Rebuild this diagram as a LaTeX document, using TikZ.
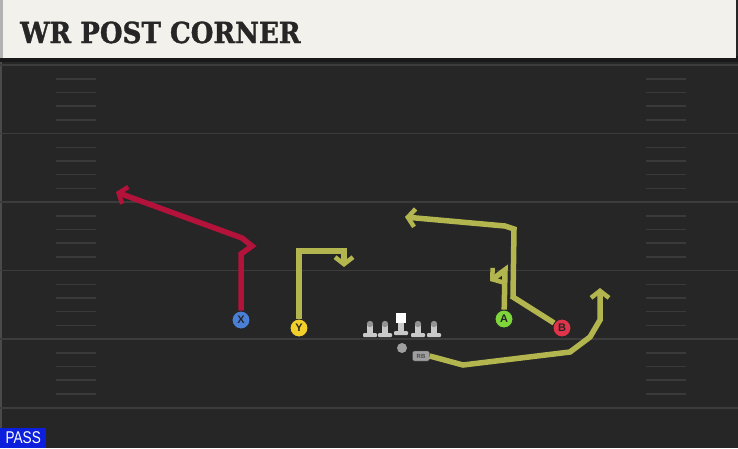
\documentclass[tikz,border=0pt]{standalone}
\usepackage{fontspec}
\usetikzlibrary{arrows.meta}
\newfontfamily\titlefont{DejaVu Serif}[BoldFeatures={FakeBold=1.2}]
\newfontfamily\tagfont{Liberation Sans}
\definecolor{fieldbg}{HTML}{262626}
\definecolor{headbg}{HTML}{F3F1EB}
\definecolor{yardline}{HTML}{3C3C3C}
\definecolor{hashline}{HTML}{3A3A3A}
\definecolor{redroute}{HTML}{B3123A}
\definecolor{oliveroute}{HTML}{B3B64E}
\definecolor{xblue}{HTML}{4A7FD6}
\definecolor{yyellow}{HTML}{F2CF2A}
\definecolor{agreen}{HTML}{7ED63A}
\definecolor{bred}{HTML}{E0344A}
\definecolor{linegray}{HTML}{C9C9C9}
\definecolor{passblue}{HTML}{0B1FDC}
\tikzset{
  player/.style={circle,draw=black!85,line width=0.9pt,minimum size=18pt,inner sep=0pt,
    font=\tagfont\bfseries\fontsize{11}{11}\selectfont,text=black!85},
  route/.style={line width=5.5pt,line join=miter,-{Straight Barb[length=7pt,width=18pt,line width=4.5pt]}}
}
\begin{document}
\begin{tikzpicture}[x=1pt,y=1pt,yscale=-1]
\useasboundingbox (0,0) rectangle (738,448);

% field and header
\fill[fieldbg] (0,0) rectangle (738,448);
\fill[black!90] (0,56) rectangle (738,62);
\fill[headbg] (0,0) rectangle (736,58);
\fill[gray!60] (0,0) rectangle (3,58);
\fill[gray!40!fieldbg] (0,62) rectangle (2,448);
\node[anchor=base west,inner sep=0pt,font=\titlefont\bfseries\fontsize{29}{29}\selectfont,
  text=black!85,xscale=0.9] (title) at (20,43) {WR POST CORNER};

% yard lines
\foreach \y in {65,133.5,202,270.5,339,408}
  \draw[yardline,line width=1.4pt] (0,\y) -- (738,\y);
% hash marks
\foreach \y in {65,133.5,202,270.5,339}
  \foreach \d in {14,27.5,41,55}{
    \draw[hashline,line width=1.2pt] (56,\y+\d) -- (96,\y+\d);
    \draw[hashline,line width=1.2pt] (646,\y+\d) -- (686,\y+\d);
  }

% offensive line
\foreach \x in {370,385,418,434}{
  \fill[linegray,rounded corners=1pt] (\x-7,333) rectangle (\x+7,337);
  \fill[linegray] (\x-3,324) rectangle (\x+3,333);
  \fill[gray!85] (\x,324) circle (3.2);
}
\fill[linegray,rounded corners=1pt] (394,331) rectangle (408,335);
\fill[linegray] (398,322) rectangle (404,331);
\fill[white] (396,313) rectangle (406,323);
\fill[gray!75] (402,348) circle (5);

% players
\node[player,fill=xblue] (X) at (241,320) {X};
\node[player,fill=yyellow] (Y) at (299,328) {Y};
\node[player,fill=agreen] (A) at (504,319) {A};
\node[player,fill=bred] (B) at (562,328) {B};
\node[fill=gray!75,draw=black!70,rounded corners=2pt,inner sep=1pt,minimum width=17pt,
  minimum height=10pt,font=\tagfont\bfseries\fontsize{6}{6}\selectfont,text=black!70] (RB) at (421,356) {RB};

% routes
\draw[route,redroute] (X) -- (241,254) -- (252,246) -- (242,238) -- (116,192);
\draw[route,oliveroute] (Y) -- (299,251) -- (344,251) -- (344,267);
\draw[route,oliveroute] (A) -- (505,270) -- (490,281);
\draw[route,oliveroute] (B) -- (513,297) -- (514,229) -- (505,226) -- (405,217);
\draw[route,oliveroute] (RB.east) -- (463,365) -- (570,352) -- (590,337) -- (600,320) -- (600,288);

% play type
\node[fill=passblue,anchor=south west,minimum width=46pt,minimum height=20pt,inner sep=0pt,
  text=white,font=\tagfont\fontsize{17}{17}\selectfont] (pass) at (0,448) {\scalebox{0.8}[1]{PASS}};
\end{tikzpicture}
\end{document}
